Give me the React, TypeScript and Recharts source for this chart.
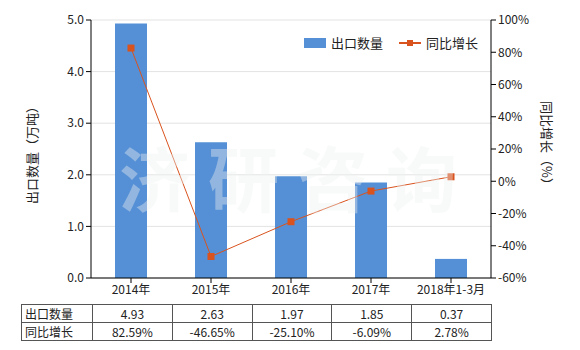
import React from "react";
import { ComposedChart, Bar, Line, XAxis, YAxis, CartesianGrid } from "recharts";

const categories = ["2014年", "2015年", "2016年", "2017年", "2018年1-3月"];
const exportQty = [4.93, 2.63, 1.97, 1.85, 0.37];
const yoyGrowth = [82.59, -46.65, -25.1, -6.09, 2.78];
const leftTicks = [0, 1, 2, 3, 4, 5];
const rightTicks = [-60, -40, -20, 0, 20, 40, 60, 80, 100];

const FONT = '"Noto Sans CJK SC", "Noto Sans", sans-serif';
const BAR_COLOR = "#5590d6";
const LINE_COLOR = "#d9531e";

const data = categories.map((c, i) => ({ name: c, qty: exportQty[i], yoy: yoyGrowth[i] }));

const SquareDot = (props: any) => {
  const { cx, cy } = props;
  if (cx == null || cy == null) return null;
  return <rect x={cx - 3.5} y={cy - 3.5} width={7} height={7} fill={LINE_COLOR} />;
};

const tickStyle = { fill: "#222", fontSize: 12, fontFamily: FONT };

export default function App() {
  const cell: React.CSSProperties = {
    border: "1px solid #555",
    height: 17,
    padding: 0,
    textAlign: "center",
    fontSize: 12,
    color: "#222",
  };
  const head: React.CSSProperties = { ...cell, textAlign: "left", paddingLeft: 3, width: 67 };

  return (
    <div style={{ position: "absolute", left: 0, top: 0, width: 580, height: 350, background: "#fff", fontFamily: FONT }}>
      <ComposedChart width={580} height={308} data={data} margin={{ top: 20, right: 0, bottom: 0, left: 0 }}>
        <CartesianGrid yAxisId="left" vertical={false} stroke="#e3e3e3" />
        <XAxis
          dataKey="name"
          height={30}
          stroke="#000"
          tickLine={{ stroke: "#000" }}
          tickSize={5}
          tick={tickStyle}
          interval={0}
        />
        <YAxis
          yAxisId="left"
          width={91}
          domain={[0, 5]}
          ticks={leftTicks}
          tickFormatter={(v: number) => v.toFixed(1)}
          stroke="#000"
          tickSize={5}
          tick={tickStyle}
          label={{
            content: () => (
              <text x={31} y={152} transform="rotate(-90 31 152)" textAnchor="middle" dominantBaseline="central" fontSize={13} fill="#222" fontFamily={FONT}>
                出口数量（万吨）
              </text>
            ),
          }}
        />
        <YAxis
          yAxisId="right"
          orientation="right"
          width={89}
          domain={[-60, 100]}
          ticks={rightTicks}
          tickFormatter={(v: number) => `${v}%`}
          stroke="#000"
          tickSize={5}
          tick={tickStyle}
          label={{
            content: () => (
              <text x={547} y={146} transform="rotate(90 547 146)" textAnchor="middle" dominantBaseline="central" fontSize={13} fill="#222" fontFamily={FONT}>
                同比增长（%）
              </text>
            ),
          }}
        />
        <Bar yAxisId="left" dataKey="qty" fill={BAR_COLOR} barSize={32} isAnimationActive={false} />
        <Line
          yAxisId="right"
          dataKey="yoy"
          stroke={LINE_COLOR}
          strokeWidth={1}
          dot={<SquareDot />}
          activeDot={false}
          isAnimationActive={false}
        />
      </ComposedChart>

      {/* watermark, drawn over the bars */}
      <svg width={580} height={308} style={{ position: "absolute", left: 0, top: 0, pointerEvents: "none" }}>
        <text x={119} y={206} fontSize={71} fontWeight="bold" fill="#eef0f0" fillOpacity={0.4} fontFamily={FONT} letterSpacing={18}>
          济研咨询
        </text>
      </svg>

      <div style={{ position: "absolute", left: 304, top: 33, display: "flex", alignItems: "center", fontSize: 13, color: "#222" }}>
        <span style={{ display: "inline-block", width: 22, height: 10, background: BAR_COLOR, marginRight: 5 }} />
        <span style={{ marginRight: 16 }}>出口数量</span>
        <svg width={22} height={10} style={{ marginRight: 5 }}>
          <line x1={0} y1={5} x2={22} y2={5} stroke={LINE_COLOR} strokeWidth={2} />
          <rect x={8} y={2} width={6} height={6} fill={LINE_COLOR} />
        </svg>
        <span>同比增长</span>
      </div>

      <table style={{ position: "absolute", left: 21, top: 304, width: 471, borderCollapse: "collapse", tableLayout: "fixed", fontFamily: FONT }}>
        <tbody>
          <tr>
            <td style={head}>出口数量</td>
            {exportQty.map((v, i) => (
              <td key={i} style={cell}>{v.toFixed(2)}</td>
            ))}
          </tr>
          <tr>
            <td style={head}>同比增长</td>
            {yoyGrowth.map((v, i) => (
              <td key={i} style={cell}>{v.toFixed(2)}%</td>
            ))}
          </tr>
        </tbody>
      </table>
    </div>
  );
}
